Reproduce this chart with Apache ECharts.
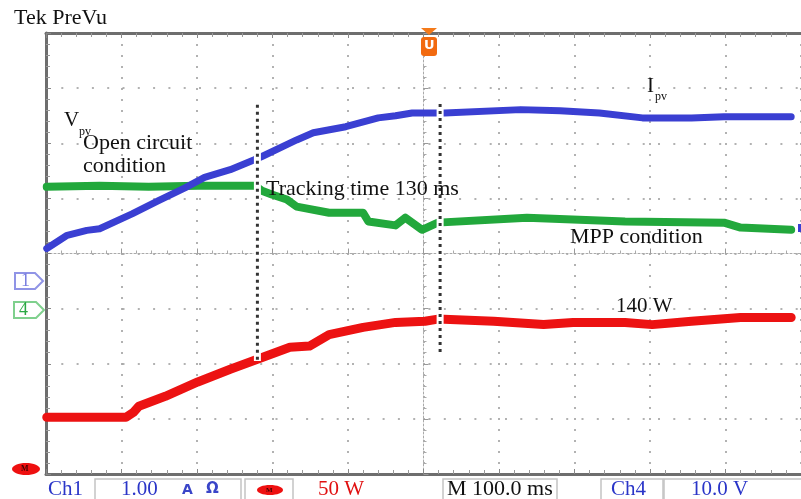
<!DOCTYPE html>
<html>
<head>
<meta charset="utf-8">
<script src="https://cdn.jsdelivr.net/npm/echarts@6/dist/echarts.min.js"></script>
<style>
  html, body { margin: 0; padding: 0; background: #fff; }
  #chart { width: 801px; height: 499px; }
</style>
</head>
<body>
<div id="chart"></div>
<script>
// time in ms (100 ms/div), level in screen divisions (0 = bottom of screen)
var ipvT = [1, 28, 54, 71, 114, 149, 184, 210, 244, 276, 286, 332, 354, 397, 440, 463, 485, 519, 528, 629, 681, 733, 790, 855, 898, 987];
var ipvV = [4.09, 4.33, 4.42, 4.45, 4.72, 4.96, 5.19, 5.38, 5.52, 5.70, 5.76, 6.06, 6.19, 6.30, 6.46, 6.50, 6.55, 6.55, 6.55, 6.61, 6.59, 6.55, 6.46, 6.46, 6.48, 6.48];

var vpvT = [1, 71, 136, 201, 277, 286, 299, 319, 332, 375, 420, 427, 463, 476, 498, 519, 637, 767, 898, 920, 987];
var vpvV = [5.21, 5.23, 5.21, 5.23, 5.23, 5.14, 5.07, 4.98, 4.85, 4.74, 4.74, 4.58, 4.51, 4.65, 4.43, 4.56, 4.65, 4.58, 4.56, 4.47, 4.43];

var powT = [1, 106, 116, 123, 158, 201, 244, 280, 323, 349, 375, 420, 463, 502, 519, 593, 659, 698, 767, 803, 855, 920, 987];
var powV = [1.03, 1.03, 1.12, 1.23, 1.41, 1.67, 1.90, 2.08, 2.30, 2.32, 2.53, 2.66, 2.75, 2.77, 2.81, 2.77, 2.71, 2.75, 2.75, 2.71, 2.77, 2.84, 2.84];

// the two cursors that bracket the tracking time
var cursorT = [280, 522];
var cursorTop = [6.70, 6.71];
var cursorBottom = [2.05, 2.14];

function pairs(t, v) {
  return t.map(function (x, i) { return [x, v[i]]; });
}

var chart = echarts.init(document.getElementById('chart'));
var serif = 'Liberation Serif, Times New Roman, serif';
var blue = '#3a3fd2', green = '#22a83c', red = '#ec1212';

function borderAxis(extra) {
  var a = {
    type: 'value',
    axisLine: { show: true, lineStyle: { color: '#6e6e6e', width: 3 } },
    axisTick: { show: true, inside: true, length: 5, lineStyle: { color: '#888' } },
    minorTick: { show: true, splitNumber: 5, length: 4, lineStyle: { color: '#999' } },
    axisLabel: { show: false },
    splitLine: { show: false }
  };
  return Object.assign(a, extra);
}

function centerAxis(extra) {
  var a = {
    type: 'value',
    gridIndex: 1,
    axisLine: { show: true, onZero: true, lineStyle: { color: '#aaa', width: 1, type: [2, 2] } },
    axisTick: { show: true, inside: true, length: 5, lineStyle: { color: '#999' } },
    minorTick: { show: true, splitNumber: 5, length: 3, lineStyle: { color: '#aaa' } },
    axisLabel: { show: false },
    splitLine: { show: false }
  };
  return Object.assign(a, extra);
}

var cursorSeries = [];
cursorT.forEach(function (t, i) {
  var pts = [[t, cursorTop[i]], [t, cursorBottom[i]]];
  cursorSeries.push({
    type: 'line', data: pts, symbol: 'none', silent: true, z: 5,
    lineStyle: { color: '#fff', width: 7 }
  });
  cursorSeries.push({
    type: 'line', data: pts, symbol: 'none', silent: true, z: 6,
    lineStyle: { color: '#333', width: 3, type: [3, 4] }
  });
});

function txt(s, x, y, size, color, font) {
  return {
    type: 'text', x: x, y: y, z: 20,
    style: { text: s, font: size + 'px ' + (font || serif), fill: color || '#111', textVerticalAlign: 'middle' }
  };
}

function box(x, y, w, h) {
  return { type: 'rect', shape: { x: x, y: y, width: w, height: h }, z: 15,
    style: { fill: 'none', stroke: '#c4c4c4', lineWidth: 1.5 } };
}

var option = {
  animation: false,
  backgroundColor: '#fff',
  grid: [
    { left: 46, top: 33, width: 765, height: 441 },
    { left: 46, top: 33, width: 765, height: 441 }
  ],
  xAxis: [
    borderAxis({ min: 0, max: 1000, interval: 100, position: 'bottom',
      splitLine: { show: true, lineStyle: { color: '#999', width: 1.5, type: [2, 9] } } }),
    borderAxis({ min: 0, max: 1000, interval: 100, position: 'top' }),
    centerAxis({ min: -500, max: 500, interval: 100 })
  ],
  yAxis: [
    borderAxis({ min: 0, max: 8, interval: 1, position: 'left',
      splitLine: { show: true, lineStyle: { color: '#999', width: 1.5, type: [2, 13.3] } } }),
    centerAxis({ min: -4, max: 4, interval: 1 })
  ],
  series: [
    { name: 'Vpv', type: 'line', data: pairs(vpvT, vpvV), symbol: 'none', z: 3,
      lineStyle: { color: green, width: 8, cap: 'round', join: 'round' } },
    { name: 'Ipv', type: 'line', data: pairs(ipvT, ipvV), symbol: 'none', z: 3,
      lineStyle: { color: blue, width: 7, cap: 'round', join: 'round' } },
    { name: 'P', type: 'line', data: pairs(powT, powV), symbol: 'none', z: 3,
      lineStyle: { color: red, width: 9, cap: 'round', join: 'round' } }
  ].concat(cursorSeries),
  graphic: [
    txt('Tek PreVu', 14, 18, 22),
    txt('V', 64, 120, 21),
    txt('pv', 79, 132, 12),
    txt('Open circuit', 83, 143, 22),
    txt('condition', 83, 166, 22),
    txt('Tracking time 130 ms', 266, 189, 22),
    txt('I', 647, 86, 21),
    txt('pv', 655, 97, 12),
    txt('MPP condition', 570, 237, 22),
    txt('140 W', 616, 306, 21),

    // trigger position marker
    { type: 'polygon', z: 18, shape: { points: [[421, 28], [437, 28], [429, 35]] }, style: { fill: '#f47a1a' } },
    { type: 'rect', z: 18, shape: { x: 421, y: 37, width: 16, height: 19, r: 3 }, style: { fill: '#f26a10' } },
    txt('U', 424, 46, 'bold 13', '#fff', 'DejaVu Sans'),

    // channel reference markers
    { type: 'polygon', z: 18, shape: { points: [[15, 273], [35, 273], [43, 281], [35, 289], [15, 289]] },
      style: { fill: '#fff', stroke: '#9094e6', lineWidth: 2 } },
    txt('1', 21, 281, 18, '#7a7fe0'),
    { type: 'polygon', z: 18, shape: { points: [[14, 302], [36, 302], [44, 310], [36, 318], [14, 318]] },
      style: { fill: '#fff', stroke: '#7fd08d', lineWidth: 2 } },
    txt('4', 19, 310, 18, '#2aa843'),
    { type: 'ellipse', z: 18, shape: { cx: 26, cy: 469, rx: 14, ry: 6 }, style: { fill: '#ee1010' } },
    txt('M', 21, 469, 'bold 8', '#400'),
    { type: 'rect', z: 18, shape: { x: 798, y: 224, width: 3, height: 8 }, style: { fill: blue } },

    // bottom status bar
    box(95, 479, 146, 22),
    box(245, 479, 48, 22),
    box(443, 479, 114, 22),
    box(601, 479, 62, 22),
    box(664, 479, 140, 22),
    txt('Ch1', 48, 489, 21, '#2a35c8'),
    txt('1.00', 121, 489, 21, '#2a35c8'),
    txt('A', 182, 490, 'bold 14', '#3a45c8', 'DejaVu Sans'),
    txt('\u03a9', 206, 489, 'bold 15', '#3a45c8', 'DejaVu Sans'),
    { type: 'ellipse', z: 18, shape: { cx: 270, cy: 490, rx: 13, ry: 5 }, style: { fill: '#ee1010' } },
    txt('M', 266, 490, 'bold 7', '#400'),
    txt('50 W', 318, 489, 21, '#e01010'),
    txt('M 100.0 ms', 447, 489, 22, '#111'),
    txt('Ch4', 611, 489, 21, '#2a35c8'),
    txt('10.0 V', 691, 489, 21, '#2a35c8')
  ]
};

chart.setOption(option);
</script>
</body>
</html>
